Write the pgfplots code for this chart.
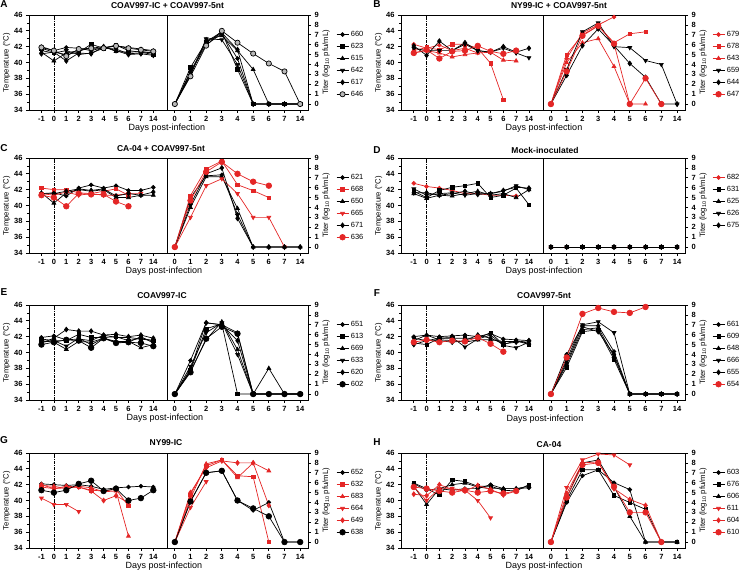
\documentclass[border=0pt]{standalone}
\usepackage{pgfplots}
\pgfplotsset{compat=1.18}
\usepackage{fontspec}
\setmainfont{Liberation Sans}
\definecolor{myred}{RGB}{228,38,38}
\pgfplotsset{
  common/.style={scale only axis, height=95pt, tick align=outside,
    /pgf/number format/assume math mode=true,
    axis line style={line width=0.8pt, black},
    major tick style={line width=0.7pt, black},
    minor tick style={line width=0.6pt, black},
    major tick length=3pt, minor tick length=2pt,
    tick label style={font=\bfseries\fontsize{7.5}{8}\selectfont},
    label style={font=\fontsize{7.7}{9}\selectfont},
    xtick pos=bottom, xtick distance=1},
  tempax/.style={common, width=138pt, xmin=-1, xmax=10.1, ymin=34, ymax=46,
    xtick={0,...,9}, xticklabels={-1,0,1,2,3,4,5,6,7,14},
    ytick={34,36,...,46}, minor ytick={35,37,...,45}, ytick pos=left,
    ylabel={Temperature (°C)}, ylabel style={yshift=-3pt}},
  titerax/.style={common, width=141pt, xmin=-0.5, xmax=8.5, ymin=-0.6, ymax=9,
    xtick={0,...,8}, xticklabels={0,1,2,3,4,5,6,7,14},
    ytick={0,...,9}, ytick pos=right, yticklabel pos=right,
    ylabel={Titer (log\textsubscript{10} pfu/mL)}, ylabel style={yshift=3pt},
    legend cell align=left,
    legend style={at={(1,1)}, anchor=north west, xshift=28pt, yshift=-14pt,
      draw=none, fill=none, font=\fontsize{7.5}{9}\selectfont, row sep=1.2pt,
      inner sep=0pt},
    legend image code/.code={\draw[mark repeat=2,mark phase=2] plot coordinates {(0pt,0pt)(6pt,0pt)(12pt,0pt)};}},
  bs/.style={black, line width=0.7pt, mark options={solid}},
  rs/.style={myred, line width=0.7pt, mark options={solid}},
  mA/.style={mark=*, mark size=1.9pt},
  mB/.style={mark=square*, mark size=1.7pt},
  mC/.style={mark=triangle*, mark size=2.2pt},
  mD/.style={mark=triangle*, mark size=2.2pt, every mark/.append style={rotate=180}},
  mE/.style={mark=diamond*, mark size=2.4pt},
  mF/.style={mark=*, mark size=2.8pt},
  mG/.style={mark=*, mark size=2.6pt, every mark/.append style={fill=gray!55, draw=black}},
  vline/.style={forget plot, black, line width=0.6pt, densely dashdotted},
}
\newcommand{\ptitle}[3]{\node[font=\bfseries\fontsize{8.5}{10}\selectfont] at (#1pt,#2pt) {#3};}
\newcommand{\pletter}[3]{\node[font=\bfseries\fontsize{10}{12}\selectfont] at (#1pt,#2pt) {#3};}
\newcommand{\pxlab}[2]{\node[font=\fontsize{9}{11}\selectfont] at (#1pt,#2pt) {Days post-infection};}
\begin{document}
\begin{tikzpicture}
\useasboundingbox (0pt,0pt) rectangle (745pt,572pt);
% ================= A =================
\begin{axis}[tempax, at={(29pt,557pt)}, anchor=north west]
\addplot[vline] coordinates {(1,34)(1,46)};
\addplot[bs,mA] coordinates {(0,42.0)(1,41.5)(2,41.9)(3,41.8)(4,41.5)(5,41.9)(6,42.1)(7,41.9)(8,41.7)(9,41.5)};
\addplot[bs,mB] coordinates {(0,41.8)(1,41.3)(2,41.0)(3,41.3)(4,42.3)(5,41.8)(6,42.2)(7,41.5)(8,41.3)(9,41.0)};
\addplot[bs,mC] coordinates {(0,41.3)(1,40.2)(2,41.2)(3,41.5)(4,41.8)(5,42.0)(6,41.4)(7,41.3)(8,41.4)(9,41.2)};
\addplot[bs,mD] coordinates {(0,41.5)(1,41.2)(2,41.5)(3,41.0)(4,41.2)(5,41.8)(6,41.7)(7,41.1)(8,41.2)(9,41.3)};
\addplot[bs,mE] coordinates {(0,41.1)(1,41.3)(2,40.2)(3,41.2)(4,41.1)(5,42.0)(6,41.5)(7,41.0)(8,41.1)(9,40.9)};
\addplot[bs,mG] coordinates {(0,41.9)(1,41.5)(2,40.8)(3,41.7)(4,41.8)(5,41.8)(6,42.1)(7,41.8)(8,41.6)(9,41.4)};
\end{axis}
\begin{axis}[titerax, at={(167pt,557pt)}, anchor=north west, legend entries={660,623,615,642,617,646}]
\addplot[bs,mA] coordinates {(0,0)(1,3.2)(2,6.0)(3,7.1)(4,4.6)(5,0)(6,0)(7,0)(8,0)};
\addplot[bs,mB] coordinates {(0,0)(1,3.7)(2,6.3)(3,7.3)(4,3.5)(5,0)(6,0)(7,0)(8,0)};
\addplot[bs,mC] coordinates {(0,0)(1,3.0)(2,6.5)(3,6.9)(4,5.4)(5,3.5)(6,0)(7,0)(8,0)};
\addplot[bs,mD] coordinates {(0,0)(1,2.9)(2,6.6)(3,6.5)(4,4.0)(5,0)(6,0)(7,0)(8,0)};
\addplot[bs,mE] coordinates {(0,0)(1,3.3)(2,6.2)(3,7.2)(4,5.5)(5,0)(6,0)(7,0)(8,0)};
\addplot[bs,mG] coordinates {(0,0)(1,2.8)(2,5.9)(3,7.4)(4,6.2)(5,5.1)(6,4.1)(7,3.3)(8,0)};
\end{axis}
\pletter{4}{568}{A}\ptitle{167.5}{566}{COAV997-IC + COAV997-5nt}\pxlab{167}{444}
% ================= B =================
\begin{axis}[tempax, width=142pt, at={(401pt,557pt)}, anchor=north west]
\addplot[vline] coordinates {(1,34)(1,46)};
\addplot[rs,mA] coordinates {(0,42.3)(1,41.8)(2,42.2)(3,41.5)(4,41.8)(5,41.2)};
\addplot[rs,mB] coordinates {(0,41.5)(1,41.9)(2,41.6)(3,42.3)(4,42.3)(5,41.8)(6,39.9)(7,35.3)};
\addplot[rs,mC] coordinates {(0,41.2)(1,41.5)(2,41.2)(3,40.7)(4,41.0)(5,41.2)(6,41.3)(7,40.3)(8,40.2)};
\addplot[bs,mD] coordinates {(0,41.8)(1,41.5)(2,41.5)(3,41.5)(4,42.3)(5,41.5)(6,41.3)(7,41.8)(8,41.2)(9,40.6)};
\addplot[bs,mE] coordinates {(0,42.1)(1,40.9)(2,42.7)(3,41.5)(4,42.5)(5,41.5)(6,41.3)(7,42.0)(8,41.3)(9,41.8)};
\addplot[rs,mF] coordinates {(0,41.2)(1,41.6)(2,40.5)(3,41.4)(4,41.5)(5,42.1)(6,41.4)(7,41.1)(8,41.5)};
\end{axis}
\begin{axis}[titerax, width=142pt, at={(543pt,557pt)}, anchor=north west, legend style={xshift=-1pt}, legend entries={679,678,643,659,644,647}]
\addplot[rs,mA] coordinates {(0,0)(1,4.6)(2,7.2)(3,8.0)(4,8.8)};
\addplot[rs,mB] coordinates {(0,0)(1,5.0)(2,7.0)(3,7.9)(4,6.2)(5,7.1)(6,7.3)};
\addplot[rs,mC] coordinates {(0,0)(1,4.2)(2,6.2)(3,6.6)(4,3.8)(5,0)(6,0)};
\addplot[bs,mD] coordinates {(0,0)(1,3.5)(2,7.3)(3,8.2)(4,5.8)(5,5.7)(6,4.4)(7,4.0)(8,0)};
\addplot[bs,mE] coordinates {(0,0)(1,2.9)(2,5.9)(3,7.6)(4,5.9)(5,4.1)(6,2.7)(7,0)(8,0)};
\addplot[rs,mF] coordinates {(0,0)(1,3.3)(2,6.9)(3,7.9)(4,6.1)(5,0)(6,2.6)(7,0)};
\end{axis}
\pletter{377}{568}{B}\ptitle{559}{566}{NY99-IC + COAV997-5nt}\pxlab{544}{444}
% ================= C =================
\begin{axis}[tempax, at={(29pt,414pt)}, anchor=north west]
\addplot[vline] coordinates {(1,34)(1,46)};
\addplot[bs,mA] coordinates {(0,41.5)(1,41.6)(2,41.2)(3,42.2)(4,42.6)(5,42.2)(6,42.5)(7,41.9)(8,41.9)(9,42.3)};
\addplot[rs,mB] coordinates {(0,42.2)(1,42.0)(2,42.0)(3,41.6)(4,41.5)(5,41.8)(6,42.1)(7,41.3)};
\addplot[bs,mC] coordinates {(0,41.6)(1,40.3)(2,41.6)(3,42.0)(4,41.8)(5,42.0)(6,41.0)(7,41.0)(8,41.3)(9,41.3)};
\addplot[rs,mD] coordinates {(0,41.5)(1,41.3)(2,41.7)(3,41.3)(4,41.5)(5,41.3)(6,41.3)(7,41.5)(8,41.5)};
\addplot[bs,mE] coordinates {(0,41.5)(1,41.5)(2,41.8)(3,42.1)(4,41.9)(5,42.1)(6,41.2)(7,41.5)(8,41.3)(9,41.7)};
\addplot[rs,mF] coordinates {(0,41.3)(1,41.0)(2,39.9)(3,41.5)(4,41.4)(5,41.4)(6,40.5)(7,39.9)};
\end{axis}
\begin{axis}[titerax, at={(167pt,414pt)}, anchor=north west, legend entries={621,668,650,665,671,636}]
\addplot[bs,mA] coordinates {(0,0)(1,5.0)(2,7.2)(3,7.3)(4,3.3)(5,0)(6,0)(7,0)(8,0)};
\addplot[rs,mB] coordinates {(0,0)(1,5.2)(2,7.9)(3,8.7)(4,6.3)(5,5.7)(6,5.0)};
\addplot[bs,mC] coordinates {(0,0)(1,4.0)(2,7.1)(3,7.1)(4,3.9)(5,0)(6,0)(7,0)(8,0)};
\addplot[rs,mD] coordinates {(0,0)(1,3.0)(2,6.2)(3,6.9)(4,5.4)(5,3.0)(6,3.0)(7,0)};
\addplot[bs,mE] coordinates {(0,0)(1,4.3)(2,7.4)(3,8.0)(4,2.9)(5,0)(6,0)(7,0)(8,0)};
\addplot[rs,mF] coordinates {(0,0)(1,4.7)(2,7.6)(3,8.6)(4,7.4)(5,6.6)(6,6.2)};
\end{axis}
\pletter{4}{424}{C}\ptitle{161}{423}{CA-04 + COAV997-5nt}\pxlab{164}{301}
% ================= D =================
\begin{axis}[tempax, width=142pt, at={(401pt,414pt)}, anchor=north west]
\addplot[vline] coordinates {(1,34)(1,46)};
\addplot[rs,mA] coordinates {(0,42.8)(1,42.4)(2,42.2)(3,41.9)(4,41.5)(5,41.5)(6,41.3)(7,41.3)(8,41.2)};
\addplot[bs,mB] coordinates {(0,41.8)(1,41.0)(2,41.9)(3,42.3)(4,42.5)(5,42.8)(6,41.0)(7,41.3)(8,42.2)(9,40.1)};
\addplot[bs,mC] coordinates {(0,41.5)(1,40.9)(2,41.3)(3,41.2)(4,41.5)(5,41.8)(6,41.3)(7,41.5)(8,41.0)(9,42.0)};
\addplot[bs,mD] coordinates {(0,42.1)(1,41.3)(2,41.5)(3,41.6)(4,41.3)(5,41.5)(6,41.5)(7,41.8)(8,42.5)(9,42.0)};
\addplot[bs,mE] coordinates {(0,41.6)(1,41.6)(2,41.3)(3,41.5)(4,41.8)(5,41.4)(6,41.5)(7,41.9)(8,42.3)(9,42.2)};
\end{axis}
\begin{axis}[titerax, width=142pt, at={(543pt,414pt)}, anchor=north west, legend style={xshift=-1pt}, legend entries={682,631,625,626,675}]
\addplot[rs,mA] coordinates {(0,0)(1,0)(2,0)(3,0)(4,0)(5,0)(6,0)(7,0)(8,0)};
\addplot[bs,mB] coordinates {(0,0)(1,0)(2,0)(3,0)(4,0)(5,0)(6,0)(7,0)(8,0)};
\addplot[bs,mC] coordinates {(0,0)(1,0)(2,0)(3,0)(4,0)(5,0)(6,0)(7,0)(8,0)};
\addplot[bs,mD] coordinates {(0,0)(1,0)(2,0)(3,0)(4,0)(5,0)(6,0)(7,0)(8,0)};
\addplot[bs,mE] coordinates {(0,0)(1,0)(2,0)(3,0)(4,0)(5,0)(6,0)(7,0)(8,0)};
\addplot[bs,mB,forget plot] coordinates {(0,0)(1,0)(2,0)(3,0)(4,0)(5,0)(6,0)(7,0)(8,0)};
\end{axis}
\pletter{377}{422}{D}\ptitle{545}{422}{Mock-inoculated}\pxlab{544}{301}
% ================= E =================
\begin{axis}[tempax, at={(29pt,267pt)}, anchor=north west]
\addplot[vline] coordinates {(1,34)(1,46)};
\addplot[bs,mA] coordinates {(0,41.9)(1,42.1)(2,41.6)(3,41.7)(4,41.5)(5,42.2)(6,41.9)(7,41.9)(8,41.7)(9,41.5)};
\addplot[bs,mB] coordinates {(0,41.7)(1,41.5)(2,41.5)(3,42.3)(4,41.9)(5,41.9)(6,42.0)(7,41.5)(8,41.8)(9,41.5)};
\addplot[bs,mC] coordinates {(0,41.5)(1,41.3)(2,40.4)(3,41.4)(4,41.3)(5,41.8)(6,41.4)(7,41.4)(8,40.6)(9,41.0)};
\addplot[bs,mD] coordinates {(0,41.3)(1,41.5)(2,40.8)(3,41.8)(4,41.0)(5,41.8)(6,41.3)(7,41.3)(8,42.0)(9,41.2)};
\addplot[bs,mE] coordinates {(0,41.2)(1,41.8)(2,42.9)(3,42.7)(4,42.7)(5,42.2)(6,42.3)(7,42.0)(8,42.2)(9,41.8)};
\addplot[bs,mF] coordinates {(0,41.0)(1,41.3)(2,41.6)(3,41.5)(4,40.6)(5,41.8)(6,41.2)(7,41.3)(8,41.2)(9,40.8)};
\end{axis}
\begin{axis}[titerax, at={(167pt,267pt)}, anchor=north west, legend entries={651,613,669,633,620,602}]
\addplot[bs,mA] coordinates {(0,0)(1,3.4)(2,7.2)(3,7.0)(4,6.2)(5,0)(6,0)(7,0)(8,0)};
\addplot[bs,mB] coordinates {(0,0)(1,2.4)(2,6.6)(3,7.1)(4,0)(5,0)(6,0)(7,0)(8,0)};
\addplot[bs,mC] coordinates {(0,0)(1,2.3)(2,5.5)(3,7.3)(4,4.5)(5,0)(6,2.6)(7,0)(8,0)};
\addplot[bs,mD] coordinates {(0,0)(1,2.8)(2,6.2)(3,7.2)(4,4.0)(5,0)(6,0)(7,0)(8,0)};
\addplot[bs,mE] coordinates {(0,0)(1,2.5)(2,7.2)(3,7.0)(4,5.4)(5,0)(6,0)(7,0)(8,0)};
\addplot[bs,mF] coordinates {(0,0)(1,2.2)(2,5.6)(3,6.8)(4,6.1)(5,0)(6,0)(7,0)(8,0)};
\end{axis}
\pletter{4}{280}{E}\ptitle{162}{276}{COAV997-IC}\pxlab{165}{154}
% ================= F =================
\begin{axis}[tempax, width=142pt, at={(401pt,267pt)}, anchor=north west]
\addplot[vline] coordinates {(1,34)(1,46)};
\addplot[bs,mA] coordinates {(0,42.0)(1,42.2)(2,42.0)(3,42.1)(4,42.2)(5,42.0)(6,42.4)(7,41.7)(8,41.6)(9,41.5)};
\addplot[bs,mB] coordinates {(0,41.2)(1,41.0)(2,41.8)(3,41.8)(4,41.8)(5,41.8)(6,42.5)(7,41.0)(8,41.5)(9,41.0)};
\addplot[bs,mC] coordinates {(0,41.5)(1,42.2)(2,41.6)(3,41.5)(4,41.3)(5,41.6)(6,41.6)(7,41.4)(8,41.4)(9,41.2)};
\addplot[bs,mD] coordinates {(0,41.8)(1,41.5)(2,41.8)(3,41.9)(4,40.7)(5,41.7)(6,42.2)(7,40.9)(8,40.6)(9,41.3)};
\addplot[bs,mE] coordinates {(0,41.0)(1,41.5)(2,41.5)(3,41.3)(4,41.5)(5,42.2)(6,41.8)(7,41.1)(8,41.3)(9,41.5)};
\addplot[rs,mF] coordinates {(0,41.3)(1,41.6)(2,41.3)(3,41.5)(4,41.4)(5,41.9)(6,41.1)(7,40.1)};
\end{axis}
\begin{axis}[titerax, width=142pt, at={(543pt,267pt)}, anchor=north west, legend style={xshift=-1pt}, legend entries={661,609,648,666,655,654}]
\addplot[bs,mA] coordinates {(0,0)(1,4.0)(2,6.9)(3,6.9)(4,4.3)(5,0)(6,0)(7,0)(8,0)};
\addplot[bs,mB] coordinates {(0,0)(1,2.7)(2,6.3)(3,6.5)(4,3.5)(5,0)(6,0)(7,0)(8,0)};
\addplot[bs,mC] coordinates {(0,0)(1,3.0)(2,6.5)(3,6.7)(4,3.8)(5,0)(6,0)(7,0)(8,0)};
\addplot[bs,mD] coordinates {(0,0)(1,3.5)(2,7.0)(3,7.3)(4,6.2)(5,0)(6,0)(7,0)(8,0)};
\addplot[bs,mE] coordinates {(0,0)(1,3.2)(2,6.8)(3,6.3)(4,4.0)(5,0)(6,0)(7,0)(8,0)};
\addplot[rs,mF] coordinates {(0,0)(1,3.7)(2,8.1)(3,8.7)(4,8.3)(5,8.2)(6,8.8)};
\end{axis}
\pletter{377}{279}{F}\ptitle{544}{276}{COAV997-5nt}\pxlab{545}{153}
% ================= G =================
\begin{axis}[tempax, at={(29pt,119pt)}, anchor=north west]
\addplot[vline] coordinates {(1,34)(1,46)};
\addplot[bs,mA] coordinates {(0,42.1)(1,42.0)(2,41.9)(3,42.0)(4,41.8)(5,41.4)(6,41.6)(7,41.7)(8,41.8)(9,41.7)};
\addplot[rs,mB] coordinates {(0,41.7)(1,41.5)(2,41.6)(3,41.7)(4,41.3)(5,41.2)(6,41.4)(7,39.3)};
\addplot[rs,mC] coordinates {(0,41.9)(1,41.8)(2,41.5)(3,41.8)(4,41.6)(5,41.1)(6,41.2)(7,35.5)};
\addplot[rs,mD] coordinates {(0,40.3)(1,39.5)(2,39.5)(3,38.6)};
\addplot[rs,mE] coordinates {(0,42.0)(1,41.5)(2,41.8)(3,41.7)(4,41.2)(5,40.0)(6,40.6)(7,39.7)};
\addplot[bs,mF] coordinates {(0,41.3)(1,41.0)(2,41.3)(3,42.1)(4,42.5)(5,41.2)(6,41.5)(7,40.0)(8,40.3)(9,41.3)};
\end{axis}
\begin{axis}[titerax, at={(167pt,119pt)}, anchor=north west, legend entries={652,632,683,664,649,638}]
\addplot[bs,mA] coordinates {(0,0)(1,4.1)(2,7.0)(3,7.2)(4,4.2)(5,3.2)(6,4.0)(7,0)(8,0)};
\addplot[rs,mB] coordinates {(0,0)(1,4.8)(2,7.7)(3,8.3)(4,6.7)(5,6.6)(6,0)};
\addplot[rs,mC] coordinates {(0,0)(1,4.4)(2,7.9)(3,8.3)(4,6.5)(5,8.0)(6,7.2)};
\addplot[rs,mD] coordinates {(0,0)(1,3.5)(2,6.1)};
\addplot[rs,mE] coordinates {(0,0)(1,5.0)(2,7.5)(3,8.2)(4,8.0)(5,8.0)(6,3.7)};
\addplot[bs,mF] coordinates {(0,0)(1,4.1)(2,7.0)(3,7.2)(4,4.2)(5,3.4)(6,2.6)(7,0)(8,0)};
\end{axis}
\pletter{4}{132}{G}\ptitle{166}{129}{NY99-IC}\pxlab{164}{6}
% ================= H =================
\begin{axis}[tempax, width=142pt, at={(401pt,119pt)}, anchor=north west]
\addplot[vline] coordinates {(1,34)(1,46)};
\addplot[bs,mA] coordinates {(0,42.1)(1,41.3)(2,41.5)(3,41.3)(4,41.5)(5,41.5)(6,42.0)(7,41.5)(8,41.5)(9,41.6)};
\addplot[bs,mB] coordinates {(0,42.2)(1,41.5)(2,40.7)(3,42.6)(4,42.4)(5,41.8)(6,41.8)(7,41.3)(8,41.2)(9,42.0)};
\addplot[bs,mC] coordinates {(0,41.8)(1,39.5)(2,41.5)(3,42.0)(4,42.2)(5,41.7)(6,41.5)(7,41.5)(8,41.5)(9,41.8)};
\addplot[rs,mD] coordinates {(0,41.7)(1,40.0)(2,41.5)(3,41.5)(4,41.3)(5,40.0)(6,37.8)};
\addplot[rs,mE] coordinates {(0,40.8)(1,40.6)(2,42.0)(3,41.4)(4,41.2)(5,41.9)(6,41.4)(7,40.7)(8,41.2)};
\addplot[rs,mF] coordinates {(0,41.7)(1,41.5)(2,41.2)(3,41.0)(4,41.3)(5,41.0)(6,41.2)(7,40.9)(8,41.2)};
\end{axis}
\begin{axis}[titerax, width=142pt, at={(543pt,119pt)}, anchor=north west, legend style={xshift=-1pt}, legend entries={603,676,606,611,604,610}]
\addplot[bs,mA] coordinates {(0,0)(1,4.0)(2,6.7)(3,7.3)(4,6.0)(5,5.3)(6,0)(7,0)(8,0)};
\addplot[bs,mB] coordinates {(0,0)(1,4.2)(2,7.3)(3,7.3)(4,4.7)(5,4.0)(6,3.3)(7,0)(8,0)};
\addplot[bs,mC] coordinates {(0,0)(1,4.5)(2,8.0)(3,8.3)(4,5.6)(5,2.6)(6,0)(7,0)(8,0)};
\addplot[rs,mD] coordinates {(0,0)(1,5.5)(2,8.3)(3,8.9)(4,8.8)(5,7.8)};
\addplot[rs,mE] coordinates {(0,0)(1,4.9)(2,8.0)(3,8.1)(4,5.4)(5,4.3)(6,3.7)(7,0)};
\addplot[rs,mF] coordinates {(0,0)(1,4.5)(2,7.8)(3,8.0)(4,5.6)(5,3.0)(6,3.0)(7,0)};
\end{axis}
\pletter{377}{130}{H}\ptitle{549}{127}{CA-04}\pxlab{544}{6}
\end{tikzpicture}
\end{document}
